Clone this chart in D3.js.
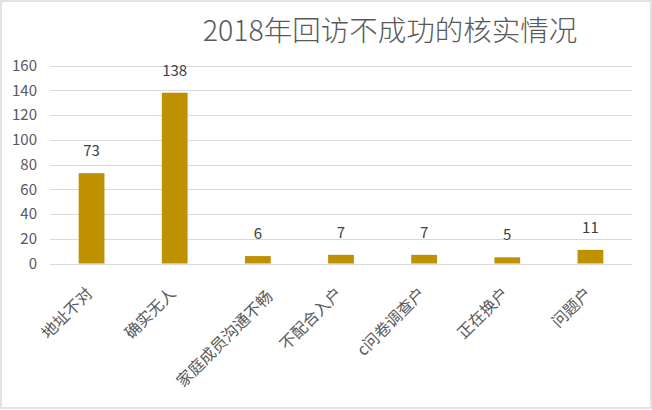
<!DOCTYPE html>
<html><head><meta charset="utf-8">
<script src="https://cdn.jsdelivr.net/npm/d3@7"></script>
<style>
body{margin:0;background:#fff;}
svg{display:block;}
</style></head>
<body><svg id="c" width="652" height="410"></svg>
<script>
const categories = ["地址不对","确实无人","家庭成员沟通不畅","不配合入户","c问卷调查户","正在换户","问题户"];
const values = [73,138,6,7,7,5,11];
const yTicks = [0,20,40,60,80,100,120,140,160];
const title = "2018年回访不成功的核实情况";

const svg = d3.select("#c");
const FONT = "'Noto Sans CJK SC','Noto Sans',sans-serif";
svg.append("rect").attr("x",1).attr("y",1).attr("width",650).attr("height",407)
  .attr("fill","#fff").attr("stroke","#d9d9d9").attr("stroke-width",1.5);

const x = d3.scaleBand().domain(categories).range([50,632]).paddingInner(0.69).paddingOuter(0.345);
const y = d3.scaleLinear().domain([0,160]).range([263.5,65.5]);

// gridlines
svg.append("g").selectAll("line").data(yTicks).join("line")
  .attr("x1",50).attr("x2",632)
  .attr("y1",d=>Math.round(y(d))+0.5).attr("y2",d=>Math.round(y(d))+0.5)
  .attr("stroke","#d9d9d9").attr("stroke-width",1);

// y axis labels
const yAxis = d3.axisLeft(y).tickValues(yTicks).tickSize(0).tickPadding(0);
const yg = svg.append("g").attr("transform","translate(37,0)").call(yAxis);
yg.select(".domain").remove();
yg.selectAll("text").attr("font-family",FONT).attr("font-size",15).attr("fill","#595959");

// bars
svg.append("g").selectAll("rect").data(values).join("rect")
  .attr("x",(d,i)=>x(categories[i])).attr("width",x.bandwidth())
  .attr("y",d=>y(d)).attr("height",d=>y(0)-y(d))
  .attr("fill","#bf9000");

// value labels
svg.append("g").selectAll("text").data(values).join("text")
  .attr("x",(d,i)=>x(categories[i])+x.bandwidth()/2)
  .attr("y",d=>y(d)-17)
  .attr("text-anchor","middle")
  .attr("font-family",FONT).attr("font-size",15).attr("fill","#404040")
  .text(d=>d);

// x labels
const xAxis = d3.axisBottom(x).tickSize(0).tickPadding(0);
const xg = svg.append("g").attr("transform","translate(0,263.5)").call(xAxis);
xg.select(".domain").remove();
xg.selectAll("text")
  .attr("font-family",FONT).attr("font-size",16).attr("fill","#595959")
  .attr("text-anchor","end")
  .attr("dy",0).attr("y",0)
  .attr("transform",d=>{
    const n = d.length;
    const off = 2 + Math.max(0, n-6)*7;
    const dyy = n > 6 ? 34 : 31;
    return `translate(${off},${dyy}) rotate(-45)`;
  });

// title
svg.append("text").attr("x",390).attr("y",41).attr("text-anchor","middle")
  .attr("font-family",FONT).attr("font-size",28.5).attr("font-weight",300).attr("fill","#595959")
  .text(title);
</script></body></html>
